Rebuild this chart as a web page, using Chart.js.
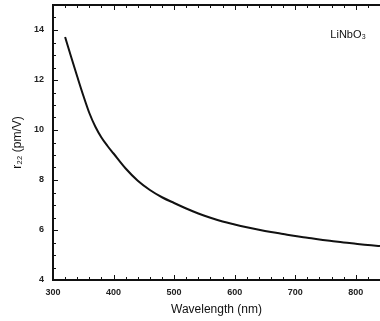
<!DOCTYPE html>
<html>
<head>
<meta charset="utf-8">
<script src="https://cdn.jsdelivr.net/npm/chart.js@4/dist/chart.umd.min.js"></script>
<style>
html,body{margin:0;padding:0;background:#fff;}
#wrap{width:380px;height:321px;position:relative;}
</style>
</head>
<body>
<div id="wrap"><canvas id="c" width="380" height="321"></canvas></div>
<script>
const wavelengths = [320,330,340,350,360,370,380,390,400,420,440,460,480,500,520,540,560,580,600,620,640,660,680,700,720,740,760,780,800,820,840];
const r22Values = [13.72,12.92,12.14,11.38,10.68,10.13,9.7,9.36,9.06,8.46,7.97,7.6,7.31,7.08,6.86,6.66,6.49,6.34,6.22,6.11,6.01,5.92,5.84,5.76,5.69,5.62,5.56,5.5,5.45,5.4,5.36];
const xTickLabels = [300,400,500,600,700,800];
const yTickLabels = [4,6,8,10,12,14];
const xTitle = 'Wavelength (nm)';
const yTitle = 'r₂₂ (pm/V)';
const annotation = 'LiNbO₃';

const points = wavelengths.map((w,i)=>({x:w,y:r22Values[i]}));

const frameTicks = {
  id:'frameTicks',
  afterDraw(chart){
    const {ctx, chartArea:a, scales:{x,y}} = chart;
    ctx.save();
    ctx.strokeStyle = '#111';
    ctx.lineWidth = 1;
    ctx.beginPath();
    for(let v=300; v<=840; v+=20){
      const px = Math.round(x.getPixelForValue(v))+0.5;
      const len = (v%100===0)?5:3;
      ctx.moveTo(px,a.bottom); ctx.lineTo(px,a.bottom-len);
      ctx.moveTo(px,a.top); ctx.lineTo(px,a.top+len);
    }
    for(let v=4; v<=15; v+=0.5){
      const py = Math.round(y.getPixelForValue(v))+0.5;
      const len = (v%2===0)?5:3;
      ctx.moveTo(a.left,py); ctx.lineTo(a.left+len,py);
    }
    ctx.stroke();
    ctx.lineWidth = 2;
    ctx.beginPath();
    ctx.moveTo(a.left,a.top); ctx.lineTo(a.right,a.top);
    ctx.stroke();
    ctx.fillStyle = '#111';
    ctx.font = '11px "Liberation Sans", Arial, sans-serif';
    ctx.textAlign = 'left';
    ctx.textBaseline = 'middle';
    ctx.fillText(annotation, x.getPixelForValue(758), y.getPixelForValue(13.8));
    ctx.restore();
  }
};

new Chart(document.getElementById('c'), {
  type:'line',
  data:{datasets:[{data:points,borderColor:'#111',borderWidth:2,pointRadius:0,fill:false,cubicInterpolationMode:'monotone'}]},
  options:{
    responsive:false,
    animation:false,
    layout:{padding:{top:5,right:0,bottom:0,left:0}},
    plugins:{legend:{display:false},tooltip:{enabled:false}},
    scales:{
      x:{
        type:'linear',min:300,max:840,
        afterBuildTicks(s){s.ticks = xTickLabels.map(v=>({value:v}));},
        afterFit(s){s.height = 41; s.paddingLeft = 0; s.paddingRight = 0;},
        grid:{display:true,drawOnChartArea:false,drawTicks:false},
        border:{display:true,color:'#111',width:2},
        ticks:{padding:7,color:'#222',font:{family:'"Liberation Sans", Arial, sans-serif',size:9,weight:'bold'},maxRotation:0},
        title:{display:true,text:xTitle,color:'#111',font:{family:'"Liberation Sans", Arial, sans-serif',size:12},padding:{top:0,bottom:4}}
      },
      y:{
        type:'linear',min:4,max:15,
        afterBuildTicks(s){s.ticks = yTickLabels.map(v=>({value:v}));},
        afterFit(s){s.width = 53; s.paddingTop = 0; s.paddingBottom = 0;},
        grid:{display:true,drawOnChartArea:false,drawTicks:false},
        border:{display:true,color:'#111',width:2},
        ticks:{padding:9,color:'#222',font:{family:'"Liberation Sans", Arial, sans-serif',size:9,weight:'bold'}},
        title:{display:true,text:yTitle,color:'#111',font:{family:'"Liberation Sans", Arial, sans-serif',size:12},padding:{top:10,bottom:0}}
      }
    }
  },
  plugins:[frameTicks]
});
</script>
</body>
</html>
